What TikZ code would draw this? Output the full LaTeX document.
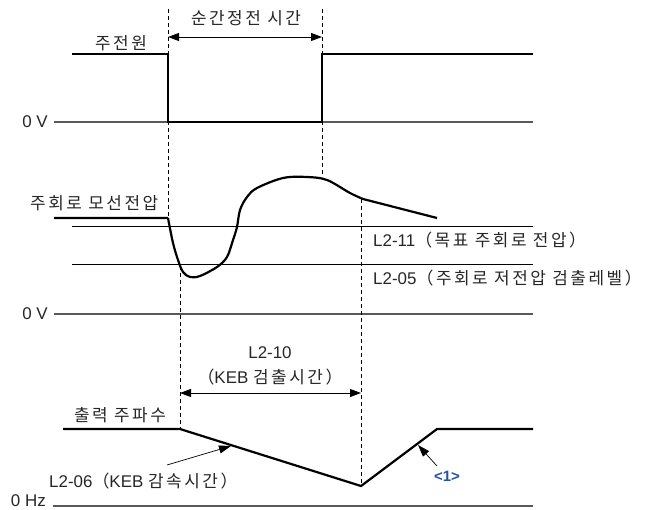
\documentclass[tikz,border=0pt]{standalone}
\usepackage{fontspec}
\setmainfont{Liberation Sans}
\newfontfamily\kr[LetterSpace=15]{Noto Sans CJK KR}
\usetikzlibrary{arrows.meta}
\definecolor{refblue}{RGB}{36,82,166}

\begin{document}
\begin{tikzpicture}[x=1bp, y=-1bp,
                  wave/.style={line width=2.2bp, line join=miter},
                  level/.style={line width=0.9bp},
                  zero/.style={line width=1.2bp, black!65},
                  guide/.style={line width=0.7bp, dash pattern=on 4bp off 3bp},
                  dim/.style={{Triangle[length=11bp,width=8bp]}-{Triangle[length=11bp,width=8bp]}, line width=0.9bp},
                  ptr/.style={-{Triangle[length=12bp,width=8bp]}, line width=0.7bp},
                  lbl/.style={font=\fontsize{17}{20}\selectfont, text=black!85, inner sep=1bp},
                  tag/.style={font=\bfseries\fontsize{15}{17}\selectfont, text=refblue, inner sep=1bp},
            ]
            \useasboundingbox (0,0) rectangle (645,510);

            % Row 1: main power
            \node[lbl] (mains) at (121,43) {\kr 주전원};
            \node[lbl, anchor=east] (zeroV1) at (49,122) {0 V};
            \draw[zero] (54,122) coordinate (z1) -- (533,122) coordinate (z1e);
            \draw[wave] (72,54) -- (168,54) -- (168,122) -- (322,122) -- (322,54) -- (533,54);

            % guide lines and dip time
            \coordinate (g1top) at (168,9);
            \coordinate (g1bot) at (168,218);
            \coordinate (g2top) at (322,9);
            \coordinate (g2bot) at (322,176);
            \draw[guide] (g1top) -- (g1bot);
            \draw[guide] (g2top) -- (g2bot);
            \draw[dim] (168,37) coordinate (dA) -- (322,37) coordinate (dB);
            \node[lbl] (dipTime) at (246,18) {\kr 순간정전 시간};

            % Row 2: DC bus voltage
            \node[lbl, anchor=west] (busV) at (29,203) {\kr 주회로 모선전압};
            \draw[level] (72,226) coordinate (l11a) -- (533,226) coordinate (l11b);
            \draw[level] (72,264) coordinate (l05a) -- (533,264) coordinate (l05b);
            \node[lbl, anchor=west] (l11) at (372,240) {L2-11{\kr （목표 주회로 전압）}};
            \node[lbl, anchor=west] (l05) at (372,278) {L2-05{\kr （주회로 저전압 검출레벨）}};
            \node[lbl, anchor=east] (zeroV2) at (49,314) {0 V};
            \draw[zero] (54,314) coordinate (z2) -- (533,314) coordinate (z2e);
            \draw[wave] (54,218) -- (168,218)
                  plot[smooth, tension=0.55] coordinates {(168,218) (173,243) (178,260) (183,272) (190,277)
                        (200,276) (217,267) (227,257) (233,240) (237,227) (240,210) (247,197) (257,188)
                        (283,178) (307,177) (327,180) (350,193) (363,199)}
                  -- (437,218);

            % guide lines and KEB detection time
            \coordinate (g3top) at (180,266);
            \coordinate (g3bot) at (180,429);
            \coordinate (g4top) at (361,199);
            \coordinate (g4bot) at (361,486);
            \draw[guide] (g3top) -- (g3bot);
            \draw[guide] (g4top) -- (g4bot);
            \draw[dim] (180,393) coordinate (kA) -- (361,393) coordinate (kB);
            \node[lbl] (l10) at (270,353) {L2-10};
            \node[lbl] (l10txt) at (270,377) {{\kr （}KEB {\kr 검출시간）}};

            % Row 3: output frequency
            \node[lbl] (outF) at (120,415) {\kr 출력 주파수};
            \draw[wave] (63,429) -- (180,429) -- (361,486) coordinate (fmin) -- (437,429) -- (533,429);
            \node[lbl, anchor=west] (l06) at (48,481) {L2-06{\kr （}KEB {\kr 감속시간）}};
            \coordinate (decel) at (231,446);
            \draw[ptr] (167,465) -- (decel);
            \node[tag] (note1) at (447,476) {<1>};
            \coordinate (accel) at (418,445);
            \draw[ptr] (437,466) -- (accel);
            \node[lbl, anchor=east] (zeroHz) at (47,501) {0 Hz};
            \draw[zero] (53,506) coordinate (z3) -- (533,506) coordinate (z3e);

      \end{tikzpicture}
\end{document}
